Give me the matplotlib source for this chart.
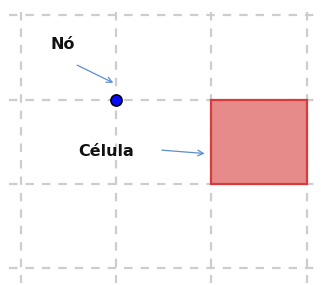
import matplotlib
matplotlib.use("Agg")
import matplotlib.pyplot as plt
from matplotlib.patches import Rectangle

# Data
grid_x = [0, 1, 2, 3]
grid_y = [0, 1, 2, 3]
node = (1, 1)
cell = (2, 1, 1, 1)  # x, y, width, height
labels = ["Nó", "Célula"]

fig = plt.figure(figsize=(3.21, 2.85), dpi=100)
ax = fig.add_axes([0, 0, 1, 1])
ax.set_xlim(-0.2207, 3.152)
ax.set_ylim(3.202, -0.184)
ax.axis("off")

gray = "#cdcdcd"
for gx in grid_x:
    ax.plot([gx, gx], [-0.04, 3.18], color=gray, lw=1.6, dashes=(3.8, 3.6), zorder=1)
for gy in grid_y:
    ax.plot([-0.13, 3.16], [gy, gy], color=gray, lw=1.6, dashes=(3.8, 3.6), zorder=1)

ax.add_patch(Rectangle((cell[0], cell[1]), cell[2], cell[3],
                       facecolor="#e68a8a", edgecolor="#d93a3c", lw=1.6, zorder=3))

ax.plot([node[0]], [node[1]], "o", ms=8, mfc="#0a0aff", mec="black", mew=1.2, zorder=4)

arrow_col = "#5b8fd0"
ax.text(0.44, 0.35, labels[0], fontsize=11.5, fontweight="bold", ha="center", va="center",
        family="DejaVu Sans", color="#111111")
ax.annotate("", xy=(0.97, 0.8), xytext=(0.59, 0.59),
            arrowprops=dict(arrowstyle="->", color=arrow_col, lw=0.9, shrinkA=0, shrinkB=0))
ax.text(0.89, 1.62, labels[1], fontsize=11.5, fontweight="bold", ha="center", va="center",
        family="DejaVu Sans", color="#111111")
ax.annotate("", xy=(1.93, 1.64), xytext=(1.48, 1.6),
            arrowprops=dict(arrowstyle="->", color=arrow_col, lw=0.9, shrinkA=0, shrinkB=0))

fig.savefig("out.png", dpi=100)
